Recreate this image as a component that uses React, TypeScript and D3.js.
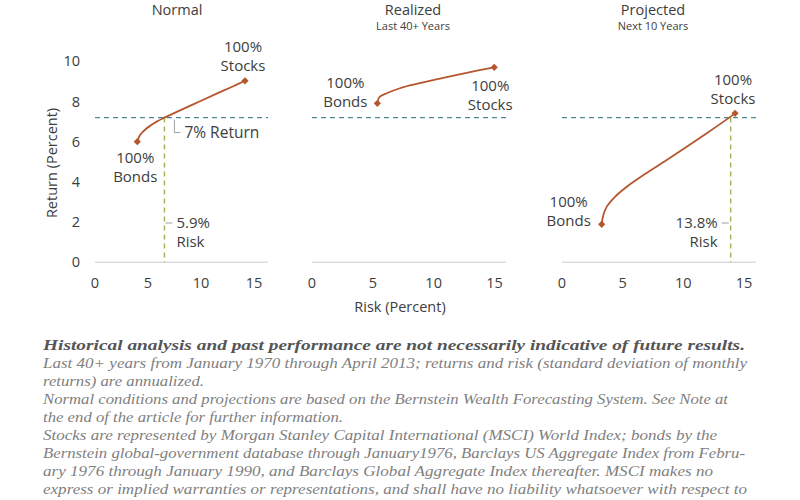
import React from "react";
import * as d3 from "d3";

// ---------- data ----------
const yTicks = [0, 2, 4, 6, 8, 10];
const xTicks = [0, 5, 10, 15];

const normalRisk = [3.99, 4.25, 4.88, 5.82, 6.6, 8.33, 9.91, 11.48, 13.05, 14.15];
const normalReturn = [6.0, 6.33, 6.67, 7.0, 7.21, 7.63, 8.01, 8.39, 8.76, 9.03];

const realizedRisk = [5.37, 5.53, 6.14, 7.23, 8.87, 10.79, 12.71, 14.98];
const realizedReturn = [7.91, 8.21, 8.41, 8.66, 8.91, 9.18, 9.43, 9.7];

const projectedRisk = [3.27, 3.41, 3.69, 4.37, 5.34, 6.71, 8.63, 10.28, 11.93, 13.58, 14.26];
const projectedReturn = [1.89, 2.35, 2.77, 3.26, 3.76, 4.34, 5.09, 5.75, 6.42, 7.11, 7.41];

const targetReturn = 7.2;
const normalRiskAtTarget = 6.55;
const projectedRiskAtTarget = 13.9;

const panelTitles = ["Normal", "Realized", "Projected"];
const panelSubtitles = ["", "Last 40+ Years", "Next 10 Years"];

const footnoteLines = [
  "Historical analysis and past performance are not necessarily indicative of future results.",
  "Last 40+ years from January 1970 through April 2013; returns and risk (standard deviation of monthly",
  "returns) are annualized.",
  "Normal conditions and projections are based on the Bernstein Wealth Forecasting System. See Note at",
  "the end of the article for further information.",
  "Stocks are represented by Morgan Stanley Capital International (MSCI) World Index; bonds by the",
  "Bernstein global-government database through January1976, Barclays US Aggregate Index from Febru-",
  "ary 1976 through January 1990, and Barclays Global Aggregate Index thereafter.  MSCI makes no",
  "express or implied warranties or representations, and shall have no liability whatsoever with respect to",
];
const footnoteWidths = [702, 704, 161, 685, 300, 674, 702, 670, 704];

// ---------- style ----------
const FONT = "'Open Sans', 'Noto Sans', sans-serif";
const TXT = "#3d3d3d";
const CURVE = "#b5562e";
const BLUE = "#4d8791";
const GREEN = "#a9b35c";
const AXIS = "#dcdcdc";
const LEAD = "#a0a0a0";
const ANN = 15;

const y = d3.scaleLinear().domain([0, 10]).range([262.3, 61.3]);

type PanelSpec = {
  x: d3.ScaleLinear<number, number>;
  axisEnd: number;
  risk: number[];
  ret: number[];
};

const panels: PanelSpec[] = [
  { x: d3.scaleLinear().domain([0, 15]).range([95, 254]), axisEnd: 268, risk: normalRisk, ret: normalReturn },
  { x: d3.scaleLinear().domain([0, 15]).range([312, 494.5]), axisEnd: 506, risk: realizedRisk, ret: realizedReturn },
  { x: d3.scaleLinear().domain([0, 15]).range([562, 744]), axisEnd: 756, risk: projectedRisk, ret: projectedReturn },
];

function Diamond({ cx, cy }: { cx: number; cy: number }) {
  const r = 3.6;
  return (
    <path
      d={`M${cx},${cy - r}L${cx + r},${cy}L${cx},${cy + r}L${cx - r},${cy}Z`}
      fill={CURVE}
    />
  );
}

function TwoLine({ x, y0, a, b, anchor = "middle" }: { x: number; y0: number; a: string; b: string; anchor?: string }) {
  return (
    <text x={x} y={y0} textAnchor={anchor as any} fontFamily={FONT} fontSize={ANN} fill={TXT}>
      <tspan x={x} y={y0}>{a}</tspan>
      <tspan x={x} y={y0 + 19}>{b}</tspan>
    </text>
  );
}

export default function App() {
  const lineGen = (p: PanelSpec) =>
    d3
      .line<number>()
      .x((_, i) => p.x(p.risk[i]))
      .y((d) => y(d))
      .curve(d3.curveCatmullRom.alpha(0.5))(p.ret) as string;

  const p0 = panels[0], p1 = panels[1], p2 = panels[2];
  const first = (p: PanelSpec) => ({ x: p.x(p.risk[0]), y: y(p.ret[0]) });
  const last = (p: PanelSpec) => ({ x: p.x(p.risk[p.risk.length - 1]), y: y(p.ret[p.ret.length - 1]) });

  const yT = y(targetReturn);
  const gx0 = p0.x(normalRiskAtTarget);
  const gx2 = p2.x(projectedRiskAtTarget);

  const b0 = first(p0), s0 = last(p0);
  const b1 = first(p1), s1 = last(p1);
  const b2 = first(p2), s2 = last(p2);

  const titleCenters = [177, 413, 653];

  return (
    <svg
      width={800}
      height={500}
      style={{ position: "fixed", left: 0, top: 0, background: "#fff" }}
    >
      <rect width={800} height={500} fill="#fff" />

      {/* titles */}
      {panelTitles.map((t, i) => (
        <g key={t}>
          <text x={titleCenters[i]} y={15} textAnchor="middle" fontFamily={FONT} fontSize={14.5} fill={TXT}>
            {t}
          </text>
          {panelSubtitles[i] && (
            <text x={titleCenters[i]} y={30} textAnchor="middle" fontFamily={FONT} fontSize={11} fill={TXT}>
              {panelSubtitles[i]}
            </text>
          )}
        </g>
      ))}

      {/* y axis ticks */}
      {yTicks.map((t) => (
        <text key={t} x={80} y={y(t) + 5} textAnchor="end" fontFamily={FONT} fontSize={14.5} fill={TXT}>
          {t}
        </text>
      ))}
      <text
        transform={`translate(57,${163}) rotate(-90)`}
        textAnchor="middle"
        fontFamily={FONT}
        fontSize={14.5}
        fill={TXT}
      >
        Return (Percent)
      </text>

      {panels.map((p, i) => (
        <g key={i}>
          <line x1={p.x(0)} x2={p.axisEnd} y1={y(0)} y2={y(0)} stroke={AXIS} strokeWidth={1.5} />
          {xTicks.map((t) => (
            <text key={t} x={p.x(t)} y={288} textAnchor="middle" fontFamily={FONT} fontSize={14.5} fill={TXT}>
              {t}
            </text>
          ))}
          <line
            x1={p.x(0)}
            x2={p.axisEnd}
            y1={yT}
            y2={yT}
            stroke={BLUE}
            strokeWidth={1.2}
            strokeDasharray="5,4"
          />
        </g>
      ))}

      <text x={400} y={312} textAnchor="middle" fontFamily={FONT} fontSize={14.5} fill={TXT}>
        Risk (Percent)
      </text>

      {/* green risk lines */}
      <line x1={gx0} x2={gx0} y1={yT} y2={y(0)} stroke={GREEN} strokeWidth={1.5} strokeDasharray="5,4" />
      <line x1={gx2} x2={gx2} y1={yT} y2={y(0)} stroke={GREEN} strokeWidth={1.5} strokeDasharray="5,4" />

      {/* curves */}
      {panels.map((p, i) => (
        <path key={i} d={lineGen(p)} fill="none" stroke={CURVE} strokeWidth={1.8} />
      ))}
      {[b0, s0, b1, s1, b2, s2].map((pt, i) => (
        <Diamond key={i} cx={pt.x} cy={pt.y} />
      ))}

      {/* panel 1 annotations */}
      <TwoLine x={s0.x - 2} y0={s0.y - 29} a="100%" b="Stocks" />
      <TwoLine x={b0.x - 2} y0={b0.y + 21} a="100%" b="Bonds" />
      <path d={`M${gx0 + 10},${yT + 2}V${yT + 15}H${gx0 + 16}`} fill="none" stroke={LEAD} strokeWidth={1} />
      <text x={gx0 + 20} y={yT + 20} fontFamily={FONT} fontSize={15.5} fill={TXT}>
        7% Return
      </text>
      <line x1={gx0 + 1} x2={gx0 + 8} y1={223} y2={223} stroke={LEAD} strokeWidth={1} />
      <TwoLine x={gx0 + 12} y0={228} a="5.9%" b="Risk" anchor="start" />

      {/* panel 2 annotations */}
      <TwoLine x={b1.x - 32} y0={b1.y - 15} a="100%" b="Bonds" />
      <TwoLine x={s1.x - 4} y0={s1.y + 24} a="100%" b="Stocks" />

      {/* panel 3 annotations */}
      <TwoLine x={s2.x - 2} y0={s2.y - 28} a="100%" b="Stocks" />
      <TwoLine x={b2.x - 33} y0={b2.y - 17} a="100%" b="Bonds" />
      <line x1={gx2 - 9} x2={gx2 - 2} y1={223} y2={223} stroke={LEAD} strokeWidth={1} />
      <TwoLine x={gx2 - 13} y0={228} a="13.8%" b="Risk" anchor="end" />

      {/* footnotes */}
      {footnoteLines.map((t, i) => (
        <text
          key={i}
          x={43}
          y={350 + i * 18}
          fontFamily="'Liberation Serif', 'DejaVu Serif', serif"
          fontStyle="italic"
          fontWeight={i === 0 ? "bold" : "normal"}
          fontSize={15}
          fill={i === 0 ? "#555" : "#808080"}
          textLength={footnoteWidths[i]}
          lengthAdjust="spacingAndGlyphs"
        >
          {t}
        </text>
      ))}
    </svg>
  );
}
